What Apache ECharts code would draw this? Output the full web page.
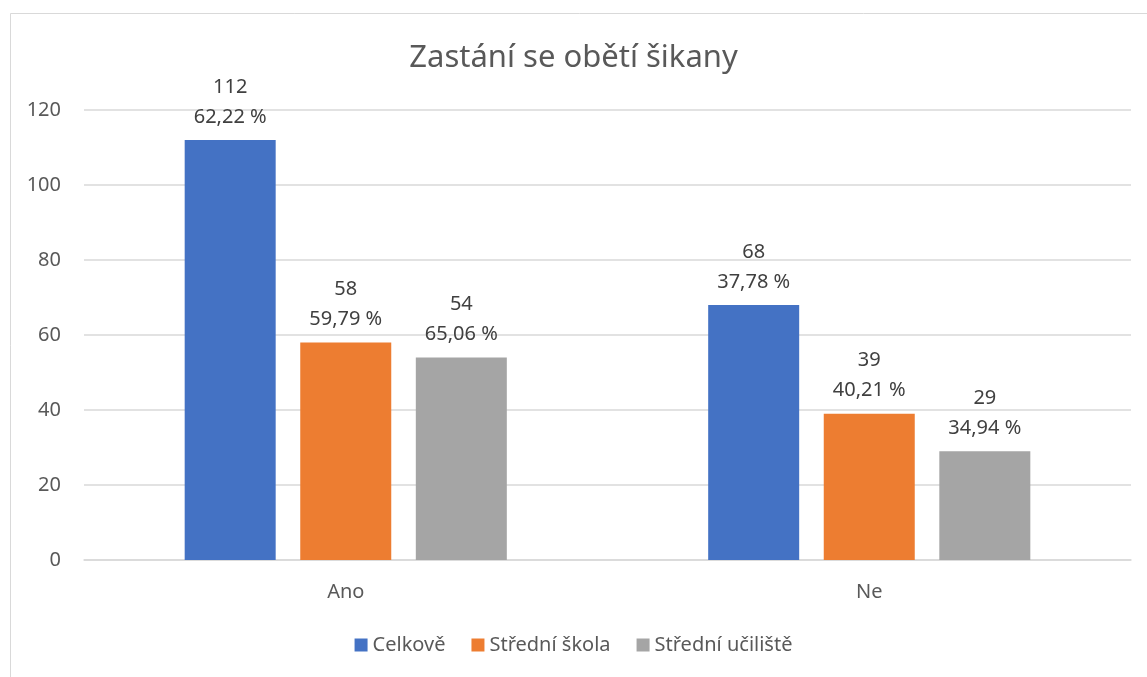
<!DOCTYPE html>
<html>
<head>
<meta charset="utf-8">
<script src="https://cdn.jsdelivr.net/npm/echarts@6/dist/echarts.min.js"></script>
<style>html,body{margin:0;padding:0;background:#fff;}#c{width:1147px;height:677px;}</style>
</head>
<body>
<div id="c"></div>
<script>
const categories = ['Ano', 'Ne'];
const seriesNames = ['Celkově', 'Střední škola', 'Střední učiliště'];
const celkove = [112, 68];
const stredniSkola = [58, 39];
const stredniUciliste = [54, 29];
const celkovePct = ['62,22 %', '37,78 %'];
const skolaPct = ['59,79 %', '40,21 %'];
const ucilistePct = ['65,06 %', '34,94 %'];
const colors = ['#4472C4', '#ED7D31', '#A5A5A5'];
const FONT = '"Noto Sans", "Open Sans", sans-serif';

const chart = echarts.init(document.getElementById('c'), null, {renderer: 'canvas'});
function mk(name, values, pcts, color) {
  return {
    name: name,
    type: 'bar',
    data: values,
    barWidth: 91,
    barGap: '27%',
    itemStyle: {color: color},
    label: {
      show: true,
      position: 'top',
      distance: 8,
      color: '#404040',
      fontFamily: FONT,
      fontSize: 20,
      lineHeight: 30,
      formatter: p => p.value + '\n' + pcts[p.dataIndex]
    }
  };
}
chart.setOption({
  animation: false,
  backgroundColor: '#fff',
  graphic: [{
    type: 'rect', left: 8, top: 11, z: -1,
    shape: {width: 1160, height: 700},
    style: {fill: 'none', stroke: '#D9D9D9', lineWidth: 1}
  }],
  title: {
    text: 'Zastání se obětí šikany',
    left: 'center', top: 38,
    textStyle: {fontFamily: FONT, fontSize: 31, fontWeight: 'normal', color: '#595959'}
  },
  legend: {
    bottom: 17, left: 'center',
    itemWidth: 13, itemHeight: 13, itemGap: 26,
    icon: 'rect',
    textStyle: {fontFamily: FONT, fontSize: 20, color: '#595959', padding: [0, 0, 0, 0]},
    data: seriesNames
  },
  grid: {left: 84, right: 16, top: 110, bottom: 117, containLabel: false},
  xAxis: {
    type: 'category', data: categories,
    axisLine: {show: true, lineStyle: {color: '#D9D9D9', width: 1.5}},
    axisTick: {show: false},
    axisLabel: {fontFamily: FONT, fontSize: 20, color: '#595959', margin: 22}
  },
  yAxis: {
    type: 'value', min: 0, max: 120, interval: 20,
    axisLine: {show: false}, axisTick: {show: false},
    splitLine: {lineStyle: {color: '#D9D9D9', width: 1.5}},
    axisLabel: {fontFamily: FONT, fontSize: 20, color: '#595959', margin: 23}
  },
  series: [
    mk(seriesNames[0], celkove, celkovePct, colors[0]),
    mk(seriesNames[1], stredniSkola, skolaPct, colors[1]),
    mk(seriesNames[2], stredniUciliste, ucilistePct, colors[2])
  ]
});
</script>
</body>
</html>
